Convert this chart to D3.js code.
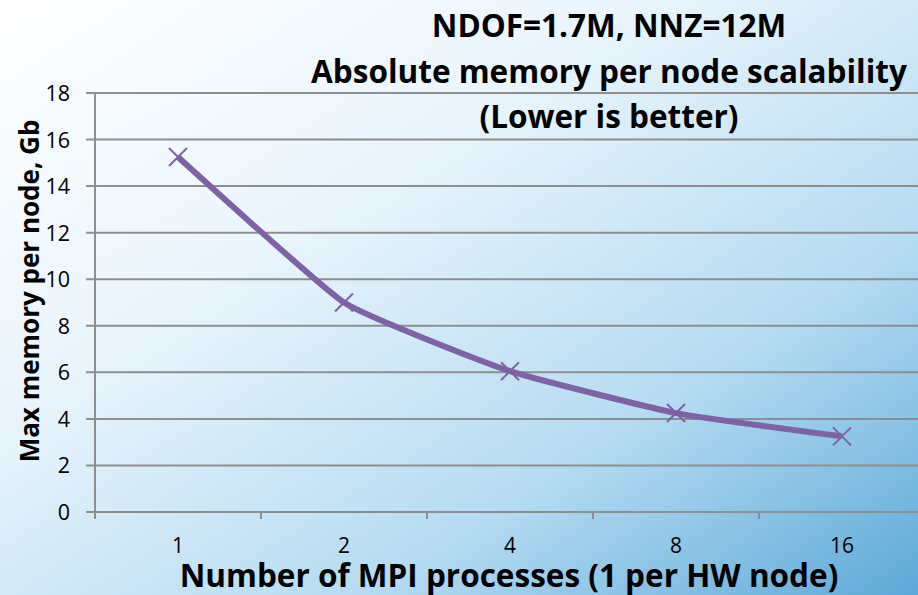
<!DOCTYPE html>
<html lang="en">
<head>
  <meta charset="UTF-8">
  <title>Memory per node</title>
  <style>
    body { margin: 0; }
    text { font-family: 'Open Sans', sans-serif; fill: #000; }
  </style>
</head>
<body>
  <svg id="svg" width="918" height="595"></svg>

  <script src="https://d3js.org/d3.v7.min.js"></script>
  <script>
    // data
    const processes = ['1', '2', '4', '8', '16']
    const memory = [15.25, 9.0, 6.05, 4.25, 3.25]
    const yTicks = [0, 2, 4, 6, 8, 10, 12, 14, 16, 18]
    const titleLines = ['NDOF=1.7M, NNZ=12M', 'Absolute memory per node scalability', '(Lower is better)']

    const svg = d3.select('#svg')

    // background gradient, white top-left to blue bottom-right
    const grad = svg.append('defs')
      .append('linearGradient')
      .attr('id', 'bg')
      .attr('x1', '0%').attr('y1', '0%')
      .attr('x2', '100%').attr('y2', '100%')
    grad.append('stop').attr('offset', '0%').attr('stop-color', '#ffffff')
    grad.append('stop').attr('offset', '35%').attr('stop-color', '#eaf5fc')
    grad.append('stop').attr('offset', '70%').attr('stop-color', '#b5dbf2')
    grad.append('stop').attr('offset', '100%').attr('stop-color', '#5da9d8')

    svg.append('rect')
      .attr('width', 918)
      .attr('height', 595)
      .attr('fill', 'url(#bg)')

    const left = 95
    const band = 166

    const xScale = d3.scaleBand()
      .domain(processes)
      .range([left, left + band * processes.length])

    const yScale = d3.scaleLinear()
      .domain([0, 18])
      .range([512, 93])

    // horizontal grid lines (with the little outward tick on the left)
    svg.append('g')
      .selectAll('line')
      .data(yTicks)
      .enter()
      .append('line')
      .attr('x1', left - 9)
      .attr('x2', 918)
      .attr('y1', d => yScale(d))
      .attr('y2', d => yScale(d))
      .attr('stroke', '#8e8e8e')
      .attr('stroke-width', 2)

    // y axis labels
    svg.append('g')
      .selectAll('text')
      .data(yTicks)
      .enter()
      .append('text')
      .text(d => d)
      .attr('x', 70)
      .attr('y', d => yScale(d) + 8)
      .attr('text-anchor', 'end')
      .style('font-size', '21.5px')

    // y axis line
    svg.append('line')
      .attr('x1', left).attr('x2', left)
      .attr('y1', yScale(18)).attr('y2', yScale(0) + 7)
      .attr('stroke', '#8e8e8e')
      .attr('stroke-width', 2)

    // x tick marks between categories
    const bounds = processes.map(d => xScale(d)).slice(1).concat([xScale(processes[4]) + band])
    svg.append('g')
      .selectAll('line')
      .data(bounds)
      .enter()
      .append('line')
      .attr('x1', d => d).attr('x2', d => d)
      .attr('y1', yScale(0)).attr('y2', yScale(0) + 7)
      .attr('stroke', '#8e8e8e')
      .attr('stroke-width', 2)

    // x labels
    svg.append('g')
      .selectAll('text')
      .data(processes)
      .enter()
      .append('text')
      .text(d => d)
      .attr('x', d => xScale(d) + band / 2)
      .attr('y', 553)
      .attr('text-anchor', 'middle')
      .style('font-size', '21px')

    // the smoothed line
    const line = d3.line()
      .x((d, i) => xScale(processes[i]) + band / 2)
      .y(d => yScale(d))
      .curve(d3.curveCardinal.tension(0.6))

    svg.append('path')
      .datum(memory)
      .attr('d', line)
      .attr('fill', 'none')
      .attr('stroke', '#7f62a3')
      .attr('stroke-width', 6)
      .attr('stroke-linejoin', 'round')

    // x markers
    const s = 9
    svg.append('g')
      .selectAll('path')
      .data(memory)
      .enter()
      .append('path')
      .attr('d', (d, i) => {
        const cx = xScale(processes[i]) + band / 2
        const cy = yScale(d)
        return `M${cx - s},${cy - s}L${cx + s},${cy + s}M${cx - s},${cy + s}L${cx + s},${cy - s}`
      })
      .attr('stroke', '#7f62a3')
      .attr('stroke-width', 2)

    // title
    svg.append('g')
      .selectAll('text')
      .data(titleLines)
      .enter()
      .append('text')
      .text(d => d)
      .attr('x', 609)
      .attr('y', (d, i) => 37 + i * 45.5)
      .attr('text-anchor', 'middle')
      .style('font-size', '31.5px')
      .style('font-weight', 'bold')

    // axis titles
    svg.append('text')
      .text('Max memory per node, Gb')
      .attr('transform', 'translate(39,291) rotate(-90)')
      .attr('text-anchor', 'middle')
      .style('font-size', '26px')
      .style('font-weight', 'bold')

    svg.append('text')
      .text('Number of MPI processes (1 per HW node)')
      .attr('x', 509)
      .attr('y', 587)
      .attr('text-anchor', 'middle')
      .style('font-size', '31.5px')
      .style('font-weight', 'bold')
  </script>
</body>
</html>
